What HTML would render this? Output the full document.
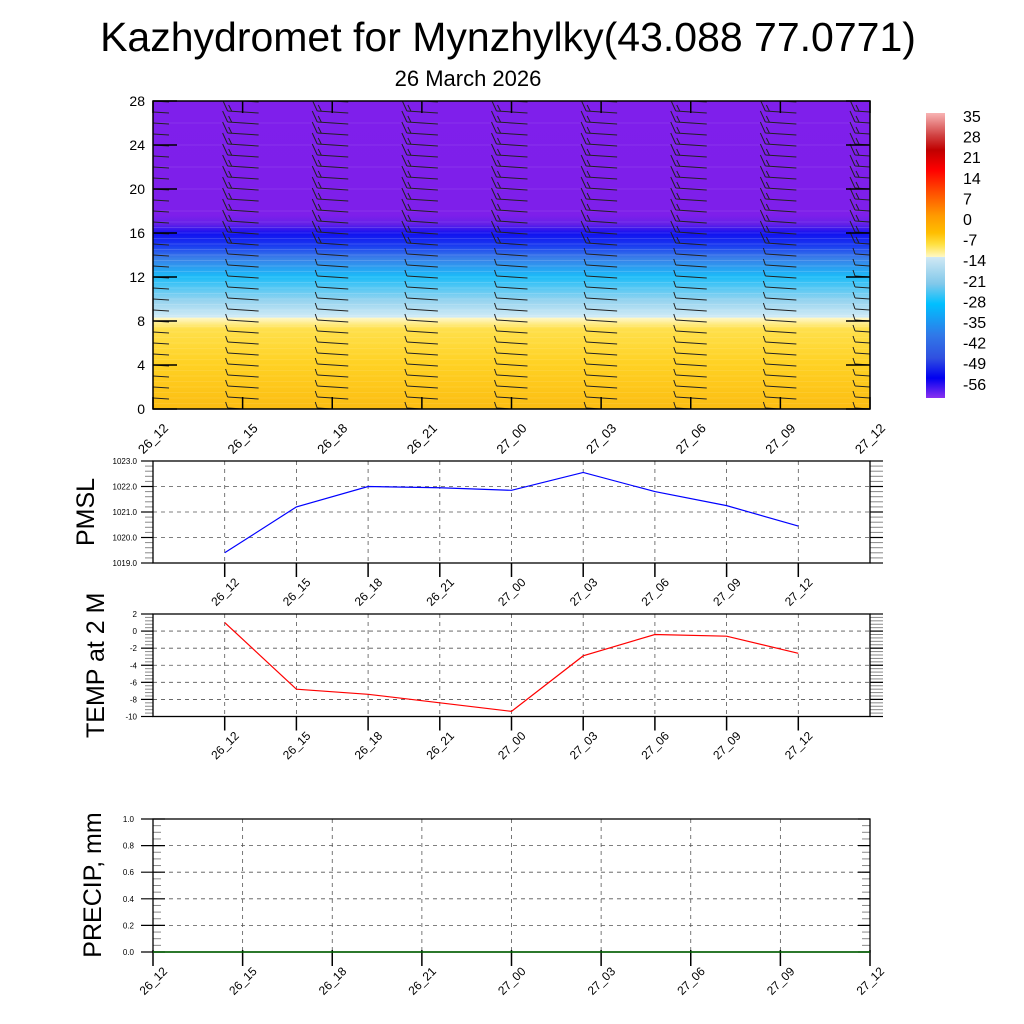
<!DOCTYPE html>
<html><head><meta charset="utf-8"><style>
html,body{margin:0;padding:0;background:#fff;}
svg{display:block;font-family:"Liberation Sans",Arial,sans-serif;}
</style></head><body>
<svg id="s" width="1024" height="1024" viewBox="0 0 1024 1024">
<defs>
<linearGradient id="field" x1="0" y1="409" x2="0" y2="101" gradientUnits="userSpaceOnUse">
<stop offset="0" stop-color="#fcbd12"/>
<stop offset="0.15" stop-color="#ffd224"/>
<stop offset="0.26" stop-color="#ffe04c"/>
<stop offset="0.296" stop-color="#fff8c8"/>
<stop offset="0.297" stop-color="#d2ebf6"/>
<stop offset="0.35" stop-color="#98d4ef"/>
<stop offset="0.43" stop-color="#1cbcf8"/>
<stop offset="0.49" stop-color="#3a7ee8"/>
<stop offset="0.53" stop-color="#1a3cf0"/>
<stop offset="0.57" stop-color="#1010f0"/>
<stop offset="0.6" stop-color="#6420e8"/>
<stop offset="0.63" stop-color="#7e1fea"/>
<stop offset="1" stop-color="#7f1feb"/>
</linearGradient>
<linearGradient id="cbar" x1="0" y1="0" x2="0" y2="1">
<stop offset="0" stop-color="#f8b4b4"/>
<stop offset="0.08" stop-color="#d04040"/>
<stop offset="0.13" stop-color="#c00000"/>
<stop offset="0.2" stop-color="#ff0000"/>
<stop offset="0.28" stop-color="#ff5000"/>
<stop offset="0.36" stop-color="#ff9a00"/>
<stop offset="0.42" stop-color="#ffbe00"/>
<stop offset="0.46" stop-color="#ffe040"/>
<stop offset="0.505" stop-color="#fff8c4"/>
<stop offset="0.506" stop-color="#d0e8f4"/>
<stop offset="0.6" stop-color="#80c8ea"/>
<stop offset="0.67" stop-color="#00c0ff"/>
<stop offset="0.78" stop-color="#3078e8"/>
<stop offset="0.86" stop-color="#3050e0"/>
<stop offset="0.93" stop-color="#0000f0"/>
<stop offset="1" stop-color="#8a30f0"/>
</linearGradient>
<clipPath id="clipTop"><rect x="153" y="101" width="717" height="308"/></clipPath>
</defs>
<text x="508" y="51" font-size="41" text-anchor="middle">Kazhydromet for Mynzhylky(43.088 77.0771)</text>
<text x="468" y="86" font-size="22" text-anchor="middle">26 March 2026</text>
<g id="topPanel"></g>
<g id="cb"></g>
<g id="pmsl"></g>
<g id="temp"></g>
<g id="precip"></g>
</svg>
<script>
const times = ["26_12","26_15","26_18","26_21","27_00","27_03","27_06","27_09","27_12"];
const pmslValues = [1019.4,1021.2,1022.0,1021.95,1021.85,1022.55,1021.8,1021.25,1020.45];
const tempValues = [1.0,-6.8,-7.4,-8.4,-9.4,-2.9,-0.4,-0.6,-2.6];
const precipValues = [0,0,0,0,0,0,0,0,0];
const heightTicks = [0,4,8,12,16,20,24,28];
const pmslTicks = [1019,1020,1021,1022,1023];
const tempTicks = [-10,-8,-6,-4,-2,0,2];
const precipTicks = [0,0.2,0.4,0.6,0.8,1.0];
const colorbarLabels = ["35","28","21","14","7","0","-7","-14","-21","-28","-35","-42","-49","-56"];

const NS="http://www.w3.org/2000/svg";
function mk(parent,tag,attrs,text){const e=document.createElementNS(NS,tag);for(const k in attrs)e.setAttribute(k,attrs[k]);if(text!==undefined)e.textContent=text;parent.appendChild(e);return e;}

const topG=document.getElementById('topPanel');
const TX0=153,TX1=870,TY0=101,TY1=409;
const tx=i=>TX0+(TX1-TX0)*i/(times.length-1);
const ty=h=>TY1-(TY1-TY0)*h/28;
let r=mk(topG,'rect',{x:TX0,y:TY0,width:TX1-TX0,height:TY1-TY0,fill:'url(#field)'});


const cl=mk(topG,'g',{'clip-path':'url(#clipTop)'});
for(let h=0.5;h<28;h+=0.5){
  if(h>17 && h%2!==0) continue;
  mk(cl,'line',{x1:TX0,x2:TX1,y1:ty(h),y2:ty(h),stroke:'#ffffff','stroke-opacity':(h>8&&h<17)?0.2:0.12,'stroke-width':0.8});
}
for(let i=0;i<times.length;i++){
  const g=mk(cl,'g',{stroke:'#222','stroke-width':1,fill:'none'});
  
  
  for(let h=0;h<=28;h++){
    const x=tx(i),y=ty(h);
    mk(g,'line',{x1:x-15,y1:y-1,x2:x+16,y2:y+1});
    if(h>=15){mk(g,'line',{x1:x-15,y1:y-1,x2:x-20,y2:y-12});mk(g,'line',{x1:x-11,y1:y-1,x2:x-14,y2:y-7});}
    else {mk(g,'line',{x1:x-15,y1:y-1,x2:x-17,y2:y-7});}
  }
}
mk(topG,'rect',{x:TX0,y:TY0,width:TX1-TX0,height:TY1-TY0,fill:'none',stroke:'#000','stroke-width':1.5});
for(const h of heightTicks){
  const y=ty(h);
  mk(topG,'line',{x1:TX0,x2:TX0+24,y1:y,y2:y,stroke:'#000','stroke-width':1.5});
  mk(topG,'line',{x1:TX1,x2:TX1-24,y1:y,y2:y,stroke:'#000','stroke-width':1.5});
  const t=mk(topG,'text',{x:TX0-8,y:y+5,'font-size':14,'text-anchor':'end'},String(h));
  
  
}
for(let i=0;i<times.length;i++){
  const x=tx(i);
  mk(topG,'line',{x1:x,x2:x,y1:TY1,y2:TY1-12,stroke:'#000','stroke-width':1.5});
  mk(topG,'line',{x1:x,x2:x,y1:TY0,y2:TY0+12,stroke:'#000','stroke-width':1.5});
  const ax=x+16, ay=TY1+20;
  const t=mk(topG,'text',{x:ax,y:ay,'font-size':13,'text-anchor':'end',transform:`rotate(-45 ${ax} ${ay})`},times[i]);
  
  
}

const cb=document.getElementById('cb');
r=mk(cb,'rect',{x:926,y:113,width:19,height:285,fill:'url(#cbar)'});


colorbarLabels.forEach((s,k)=>{
  const t=mk(cb,'text',{x:963,y:122+k*20.6,'font-size':16},s);
  
  
});

function linePanel(id,y0,y1,ticks,vals,color,fmt,title,titleX,fs){
  const g=document.getElementById(id);
  const X0=153,X1=870,vmin=ticks[0],vmax=ticks[ticks.length-1];
  const xs=i=>X0+(X1-X0)*(i+1)/10;
  const ys=v=>y1-(y1-y0)*(v-vmin)/(vmax-vmin);
  for(let i=0;i<vals.length;i++) mk(g,'line',{x1:xs(i),x2:xs(i),y1:y0,y2:y1,stroke:'#555','stroke-dasharray':'4 4','stroke-width':0.8});
  for(const v of ticks.slice(1,-1)) mk(g,'line',{x1:X0,x2:X1,y1:ys(v),y2:ys(v),stroke:'#555','stroke-dasharray':'4 4','stroke-width':0.8});
  const step=(ticks[1]-ticks[0])/5;
  for(let v=vmin;v<=vmax+1e-9;v+=step){
    const y=ys(v);
    mk(g,'line',{x1:X0,x2:X0-8,y1:y,y2:y,stroke:'#888','stroke-width':1});
    mk(g,'line',{x1:X1,x2:X1+13,y1:y,y2:y,stroke:'#888','stroke-width':1});
  }
  for(const v of ticks){
    const y=ys(v);
    mk(g,'line',{x1:X0,x2:X0-12,y1:y,y2:y,stroke:'#000','stroke-width':1.2});
    mk(g,'line',{x1:X1,x2:X1+13,y1:y,y2:y,stroke:'#000','stroke-width':1.2});
    const t=mk(g,'text',{x:X0-16,y:y+3,'font-size':8,'text-anchor':'end'},fmt(v));
    
    
  }
  mk(g,'rect',{x:X0,y:y0,width:X1-X0,height:y1-y0,fill:'none',stroke:'#000','stroke-width':1.3});
  for(let i=0;i<vals.length;i++){
    const x=xs(i);
    mk(g,'line',{x1:x,x2:x,y1:y1,y2:y1+14,stroke:'#000','stroke-width':1.5});
    const ax=x+15, ay=y1+20;
    const t=mk(g,'text',{x:ax,y:ay,'font-size':12,'text-anchor':'end',transform:`rotate(-45 ${ax} ${ay})`},times[i]);
    
    
  }
  const pts=vals.map((v,i)=>xs(i)+','+ys(v)).join(' ');
  const pl=mk(g,'polyline',{points:pts,fill:'none',stroke:color,'stroke-width':1.2});
  
  
  const cy=(y0+y1)/2;
  const t=mk(g,'text',{x:titleX,y:cy,'font-size':fs,'text-anchor':'middle',transform:`rotate(-90 ${titleX} ${cy})`},title);
  
  
}
linePanel('pmsl',461,563,pmslTicks,pmslValues,'#0000ff',v=>v.toFixed(1),'PMSL',94,25);
linePanel('temp',614,716.5,tempTicks,tempValues,'#ff0000',v=>String(v),'TEMP at 2 M',104,25);

(function(){
  const g=document.getElementById('precip');
  const X0=153,X1=870,Y0=819,Y1=952;
  const xs=i=>X0+(X1-X0)*i/(times.length-1);
  const ys=v=>Y1-(Y1-Y0)*v/1.0;
  for(let i=1;i<times.length-1;i++) mk(g,'line',{x1:xs(i),x2:xs(i),y1:Y0,y2:Y1,stroke:'#555','stroke-dasharray':'4 4','stroke-width':0.8});
  for(const v of precipTicks.slice(1,-1)) mk(g,'line',{x1:X0,x2:X1,y1:ys(v),y2:ys(v),stroke:'#555','stroke-dasharray':'4 4','stroke-width':0.8});
  for(let v=0;v<=1.0001;v+=0.05){
    const y=ys(v);
    mk(g,'line',{x1:X0,x2:X0+8,y1:y,y2:y,stroke:'#888','stroke-width':1});
    mk(g,'line',{x1:X1,x2:X1-8,y1:y,y2:y,stroke:'#888','stroke-width':1});
  }
  for(const v of precipTicks){
    const y=ys(v);
    mk(g,'line',{x1:X0-12,x2:X0+12,y1:y,y2:y,stroke:'#000','stroke-width':1.2});
    mk(g,'line',{x1:X1,x2:X1-12,y1:y,y2:y,stroke:'#000','stroke-width':1.2});
    const t=mk(g,'text',{x:X0-19,y:y+3,'font-size':8,'text-anchor':'end'},v.toFixed(1));
    
    
  }
  mk(g,'rect',{x:X0,y:Y0,width:X1-X0,height:Y1-Y0,fill:'none',stroke:'#000','stroke-width':1.3});
  for(let i=0;i<times.length;i++){
    const x=xs(i);
    mk(g,'line',{x1:x,x2:x,y1:Y1-2,y2:Y1+14,stroke:'#000','stroke-width':1.5});
    const ax=x+15, ay=Y1+20;
    const t=mk(g,'text',{x:ax,y:ay,'font-size':12,'text-anchor':'end',transform:`rotate(-45 ${ax} ${ay})`},times[i]);
    
    
  }
  const pts=precipValues.map((v,i)=>xs(i)+','+ys(v)).join(' ');
  const pl=mk(g,'polyline',{points:pts,fill:'none',stroke:'#006400','stroke-width':1.5});
  
  
  const t=mk(g,'text',{x:101,y:885,'font-size':25,'text-anchor':'middle',transform:'rotate(-90 101 885)'},'PRECIP, mm');
  
  
})();
</script>
</body></html>
